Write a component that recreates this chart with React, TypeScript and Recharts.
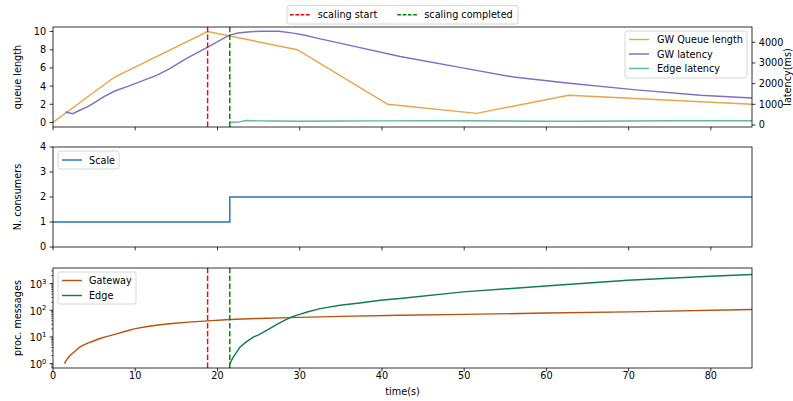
import React from "react";
import { LineChart, Line, XAxis, YAxis, ReferenceLine } from "recharts";

// top panel: queue length + latencies
const queueTime = [0, 7.5, 18.8, 29.7, 40.7, 51.5, 62.7, 85];
const queueLen = [0, 5, 10, 8, 2, 1, 3, 2];

const gwLatTime = [
  1.5, 2.4, 3.2, 4.3, 5.2, 6.1, 7.5, 9.1, 11, 12.6, 14.2, 16.2, 18.7, 21.4,
  22.5, 24, 25.5, 26.4, 27.5, 29.2, 30.5, 32.1, 36.1, 42.2, 50.3, 56, 62.5,
  70.6, 78.7, 85,
];
const gwLat = [
  628, 550, 700, 903, 1120, 1353, 1643, 1870, 2160, 2400, 2725, 3208, 3739,
  4333, 4450, 4512, 4535, 4541, 4530, 4444, 4350, 4203, 3850, 3310, 2725,
  2319, 2029, 1710, 1435, 1304,
];

const edgeLatTime = [
  21.5, 22.5, 23.5, 25, 27, 30, 35, 40, 45, 50, 55, 60, 64, 70, 75, 80, 85,
];
const edgeLat = [
  130, 140, 215, 200, 190, 185, 190, 200, 205, 205, 195, 185, 180, 195, 205,
  210, 205,
];

// middle panel: consumers
const scaleTime = [0, 21.5, 85];
const scaleCount = [1, 2, 2];

// bottom panel: processed messages (log)
const gwMsgTime = [
  1.4, 1.6, 1.8, 2.1, 2.5, 3, 3.5, 4.3, 5, 5.7, 6.5, 7.5, 8.7, 10, 11.5, 13,
  14.5, 16.5, 18.8, 21.5, 25, 28.8, 35, 42.2, 50, 60, 70, 85,
];
const gwMsg = [
  1, 1.3, 1.6, 2.05, 2.6, 3.6, 4.6, 6, 7.2, 8.7, 10.3, 12.5, 16, 20.5, 24.5,
  28.5, 32, 36, 40, 45, 49.5, 53, 59, 65, 70, 79, 87, 107,
];

const edgeMsgTime = [
  21.5, 21.7, 21.9, 22.3, 22.75, 23.5, 24.4, 25, 25.6, 26.5, 27.4, 28.2, 29,
  30, 30.9, 32.5, 34.9, 37.3, 39.8, 42.2, 49.9, 59.9, 69.9, 79.9, 85,
];
const edgeMsg = [
  1, 1.3, 1.7, 2.6, 4.2, 6.5, 10, 12, 15.3, 22, 31.6, 43, 56, 70, 86, 115, 154,
  187, 236, 276, 490, 813, 1330, 1880, 2180,
];

const scalingStart = 18.8;
const scalingDone = 21.5;

const xTicks = [0, 10, 20, 30, 40, 50, 60, 70, 80];
const queueTicks = [0, 2, 4, 6, 8, 10];
const latTicks = [0, 1000, 2000, 3000, 4000];
const consumerTicks = [0, 1, 2, 3, 4];
const logTicks = [
  0.7, 0.8, 0.9, 1, 2, 3, 4, 5, 6, 7, 8, 9, 10, 20, 30, 40, 50, 60, 70, 80, 90,
  100, 200, 300, 400, 500, 600, 700, 800, 900, 1000, 2000, 3000,
];

const pts = (ts: number[], vs: number[]) => ts.map((t, i) => ({ t, v: vs[i] }));

const C_QUEUE = "#e8a54b";
const C_GWLAT = "#7a72c0";
const C_EDGELAT = "#62b995";
const C_SCALE = "#1f77b4";
const C_GWMSG = "#b8520f";
const C_EDGEMSG = "#137a5c";

const FS = 9.7;
const LW = 1.45;
const DASH = "5.5 2.4";
const tickStyle = { fontSize: FS, fill: "#000" };
const tickLine = { stroke: "#000", strokeWidth: 0.8 };

const LEFT = 53;
const RIGHT = 752;

function LogTick(props: any) {
  const { x, y, payload } = props;
  const v = payload.value;
  const exp = Math.round(Math.log10(v));
  const major = Math.abs(Math.pow(10, exp) - v) < 1e-9;
  return (
    <g>
      <line
        x1={x - (major ? 3.4 : 1.9)}
        x2={x}
        y1={y}
        y2={y}
        stroke="#000"
        strokeWidth={major ? 0.8 : 0.6}
      />
      {major && (
        <text x={x - 6.6} y={y + 4.5} textAnchor="end" fontSize={FS} fill="#000">
          10
          <tspan dy={-4.3} fontSize={6.8}>
            {exp}
          </tspan>
        </text>
      )}
    </g>
  );
}

function LegendLine({ x, y, color, dashed }: any) {
  return (
    <line
      x1={x}
      x2={x + 20}
      y1={y}
      y2={y}
      stroke={color}
      strokeWidth={LW}
      strokeDasharray={dashed ? "3.7 1.6" : undefined}
    />
  );
}

export default function App() {
  const xAxis = (h: number, labels: boolean) => (
    <XAxis
      type="number"
      dataKey="t"
      domain={[0, 85]}
      ticks={xTicks}
      allowDataOverflow
      height={h}
      tickSize={3.4}
      tickMargin={0.5}
      axisLine={false}
      tickLine={tickLine}
      tick={tickStyle}
      interval={0}
      tickFormatter={labels ? (v: number) => String(v) : () => ""}
    />
  );

  return (
    <div
      style={{
        position: "absolute",
        left: 0,
        top: 0,
        width: 793,
        height: 401,
        background: "#fff",
        overflow: "hidden",
        fontFamily: "'DejaVu Sans', sans-serif",
      }}
    >
      <div style={{ position: "absolute", left: 0, top: 0 }}>
        <LineChart width={793} height={140} margin={{ top: 27, right: 0, bottom: 0, left: 0 }}>
          {xAxis(13, false)}
          <YAxis
            yAxisId="q"
            width={LEFT}
            domain={[-0.5, 10.5]}
            ticks={queueTicks}
            allowDataOverflow
            interval={0}
            tickSize={3.4}
            tickMargin={3.4}
            axisLine={false}
            tickLine={tickLine}
            tick={tickStyle}
          />
          <YAxis
            yAxisId="lat"
            orientation="right"
            width={793 - RIGHT}
            domain={[-97, 4740]}
            ticks={latTicks}
            allowDataOverflow
            interval={0}
            tickSize={3.4}
            tickMargin={3.4}
            axisLine={false}
            tickLine={tickLine}
            tick={tickStyle}
          />
          <Line yAxisId="q" data={pts(queueTime, queueLen)} dataKey="v" stroke={C_QUEUE} strokeWidth={LW} dot={false} isAnimationActive={false} />
          <Line yAxisId="lat" data={pts(gwLatTime, gwLat)} dataKey="v" stroke={C_GWLAT} strokeWidth={LW} dot={false} isAnimationActive={false} />
          <Line yAxisId="lat" data={pts(edgeLatTime, edgeLat)} dataKey="v" stroke={C_EDGELAT} strokeWidth={LW} dot={false} isAnimationActive={false} />
          <ReferenceLine yAxisId="q" x={scalingStart} stroke="#ff0000" strokeWidth={LW} strokeDasharray={DASH} />
          <ReferenceLine yAxisId="q" x={scalingDone} stroke="#008000" strokeWidth={LW} strokeDasharray={DASH} />
        </LineChart>
      </div>

      <div style={{ position: "absolute", left: 0, top: 130 }}>
        <LineChart width={793} height={130} margin={{ top: 17, right: 793 - RIGHT, bottom: 0, left: 0 }}>
          {xAxis(13, false)}
          <YAxis
            width={LEFT}
            domain={[0, 4]}
            ticks={consumerTicks}
            allowDataOverflow
            interval={0}
            tickSize={3.4}
            tickMargin={3.4}
            axisLine={false}
            tickLine={tickLine}
            tick={tickStyle}
          />
          <Line type="stepAfter" data={pts(scaleTime, scaleCount)} dataKey="v" stroke={C_SCALE} strokeWidth={LW} dot={false} isAnimationActive={false} />
        </LineChart>
      </div>

      <div style={{ position: "absolute", left: 0, top: 255 }}>
        <LineChart width={793} height={146} margin={{ top: 13, right: 793 - RIGHT, bottom: 0, left: 0 }}>
          {xAxis(33, true)}
          <YAxis
            scale="log"
            width={LEFT}
            domain={[0.684, 3845]}
            ticks={logTicks}
            allowDataOverflow
            interval={0}
            tickSize={0}
            tickMargin={0}
            axisLine={false}
            tickLine={false}
            tick={(p: any) => <LogTick {...p} />}
          />
          <Line data={pts(gwMsgTime, gwMsg)} dataKey="v" stroke={C_GWMSG} strokeWidth={LW} dot={false} isAnimationActive={false} />
          <Line data={pts(edgeMsgTime, edgeMsg)} dataKey="v" stroke={C_EDGEMSG} strokeWidth={LW} dot={false} isAnimationActive={false} />
          <ReferenceLine x={scalingStart} stroke="#ff0000" strokeWidth={LW} strokeDasharray={DASH} />
          <ReferenceLine x={scalingDone} stroke="#008000" strokeWidth={LW} strokeDasharray={DASH} />
        </LineChart>
      </div>

      <svg
        width={793}
        height={401}
        style={{ position: "absolute", left: 0, top: 0, pointerEvents: "none" }}
        fontSize={FS}
      >
        {/* frames */}
        <rect x={LEFT} y={27} width={RIGHT - LEFT} height={100} fill="none" stroke="#000" strokeWidth={0.8} />
        <rect x={LEFT} y={147} width={RIGHT - LEFT} height={100} fill="none" stroke="#000" strokeWidth={0.8} />
        <rect x={LEFT} y={268} width={RIGHT - LEFT} height={100} fill="none" stroke="#000" strokeWidth={0.8} />

        {/* axis titles */}
        <text transform="translate(21,77) rotate(-90)" textAnchor="middle">queue length</text>
        <text transform="translate(21,197) rotate(-90)" textAnchor="middle">N. consumers</text>
        <text transform="translate(21,318) rotate(-90)" textAnchor="middle">proc. messages</text>
        <text transform="translate(790.5,77) rotate(-90)" textAnchor="middle">latency(ms)</text>
        <text x={402.5} y={395} textAnchor="middle">time(s)</text>

        {/* figure legend */}
        <rect x={287} y={5.5} width={231} height={18.5} rx={2} fill="#fff" fillOpacity={0.8} stroke="#cccccc" strokeWidth={0.8} />
        <LegendLine x={290} y={14.7} color="#ff0000" dashed />
        <text x={317.7} y={18.2}>scaling start</text>
        <LegendLine x={397.3} y={14.7} color="#008000" dashed />
        <text x={424.3} y={18.2}>scaling completed</text>

        {/* top panel legend */}
        <rect x={625} y={31} width={122} height={47} rx={2} fill="#fff" fillOpacity={0.8} stroke="#cccccc" strokeWidth={0.8} />
        <LegendLine x={629} y={39.5} color={C_QUEUE} />
        <text x={657} y={43}>GW Queue length</text>
        <LegendLine x={629} y={54} color={C_GWLAT} />
        <text x={657} y={57.5}>GW latency</text>
        <LegendLine x={629} y={68.5} color={C_EDGELAT} />
        <text x={657} y={72}>Edge latency</text>

        {/* middle legend */}
        <rect x={58} y={151} width={61} height={18} rx={2} fill="#fff" fillOpacity={0.8} stroke="#cccccc" strokeWidth={0.8} />
        <LegendLine x={62} y={160} color={C_SCALE} />
        <text x={89} y={163.5}>Scale</text>

        {/* bottom legend */}
        <rect x={58} y={272} width={78} height={32} rx={2} fill="#fff" fillOpacity={0.8} stroke="#cccccc" strokeWidth={0.8} />
        <LegendLine x={62} y={280.5} color={C_GWMSG} />
        <text x={89} y={284}>Gateway</text>
        <LegendLine x={62} y={295.5} color={C_EDGEMSG} />
        <text x={89} y={299}>Edge</text>
      </svg>
    </div>
  );
}
